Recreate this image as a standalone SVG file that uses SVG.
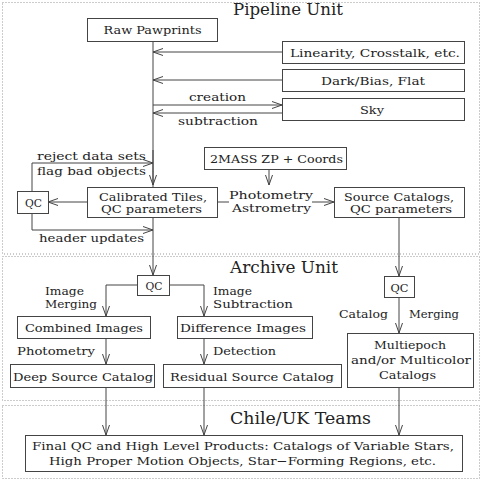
<svg xmlns="http://www.w3.org/2000/svg" width="482" height="482" viewBox="0 0 482 482">
<style>
text{font-family:"DejaVu Serif","Liberation Serif",serif;font-size:11.5px;fill:#222;text-anchor:middle}
.t{font-size:16px}
.l{text-anchor:start}
.r{text-anchor:end}
rect.n{fill:#fff;stroke:#444;stroke-width:1}
.frame{fill:none;stroke:#999;stroke-width:1;stroke-dasharray:1 2}
#connectors path{fill:none;stroke:#444;stroke-width:1}
</style>
<defs>
<marker id="a" viewBox="0 0 10 8" refX="10" refY="4" markerWidth="10" markerHeight="8" markerUnits="userSpaceOnUse" orient="auto">
<path d="M0,0.5 L10,4 L0,7.5" fill="none" stroke="#444" stroke-width="1"/>
</marker>
</defs>
<rect width="482" height="482" fill="#fff"/>
<g id="frames">
<rect class="frame" x="2.5" y="2.5" width="477" height="251.5"/>
<rect class="frame" x="2.5" y="256.5" width="477" height="144"/>
<rect class="frame" x="2.5" y="405.5" width="477" height="73"/>
<text class="t" x="288" y="15" textLength="110" lengthAdjust="spacingAndGlyphs">Pipeline Unit</text>
<text class="t" x="284" y="273" textLength="108" lengthAdjust="spacingAndGlyphs">Archive Unit</text>
<text class="t" x="300.5" y="424" textLength="141" lengthAdjust="spacingAndGlyphs">Chile/UK Teams</text>
</g>
<g id="connectors">
<path d="M153,41 V187" />
<path d="M153,150 V185" marker-end="url(#a)"/>
<path d="M282,52 H153" marker-end="url(#a)"/>
<path d="M282,80 H153" marker-end="url(#a)"/>
<path d="M153,105 H282" marker-end="url(#a)"/>
<path d="M282,113 H153" marker-end="url(#a)"/>
<path d="M87,202 H48" marker-end="url(#a)"/>
<path d="M32,191 V163 H153" marker-end="url(#a)"/>
<path d="M32,213 V230 H153" marker-end="url(#a)"/>
<path d="M269,169 V185" marker-end="url(#a)"/>
<path d="M217,202 H229"/>
<path d="M312,202 H334" marker-end="url(#a)"/>
<path d="M153,217 V275" marker-end="url(#a)"/>
<path d="M399,217 V276" marker-end="url(#a)"/>
<path d="M399,297 V333" marker-end="url(#a)"/>
<path d="M137,285 H106 V316" marker-end="url(#a)"/>
<path d="M169,285 H204 V316" marker-end="url(#a)"/>
<path d="M106,338 V364" marker-end="url(#a)"/>
<path d="M204,338 V364" marker-end="url(#a)"/>
<path d="M106,387 V435" marker-end="url(#a)"/>
<path d="M204,387 V435" marker-end="url(#a)"/>
<path d="M399,387 V435" marker-end="url(#a)"/>
</g>
<g id="labels">
<text x="217.5" y="101" textLength="57" lengthAdjust="spacingAndGlyphs">creation</text>
<text x="218" y="125" textLength="80" lengthAdjust="spacingAndGlyphs">subtraction</text>
<text class="l" x="37" y="160" textLength="109" lengthAdjust="spacingAndGlyphs">reject data sets</text>
<text class="l" x="37" y="175" textLength="109" lengthAdjust="spacingAndGlyphs">flag bad objects</text>
<text class="l" x="39" y="242" textLength="105" lengthAdjust="spacingAndGlyphs">header updates</text>
<text x="271" y="199" textLength="84" lengthAdjust="spacingAndGlyphs">Photometry</text>
<text x="271.5" y="212" textLength="79" lengthAdjust="spacingAndGlyphs">Astrometry</text>
<text class="l" x="45" y="295" textLength="39" lengthAdjust="spacingAndGlyphs">Image</text>
<text class="l" x="45" y="308" textLength="52" lengthAdjust="spacingAndGlyphs">Merging</text>
<text class="l" x="213" y="295" textLength="39" lengthAdjust="spacingAndGlyphs">Image</text>
<text class="l" x="213" y="308" textLength="80" lengthAdjust="spacingAndGlyphs">Subtraction</text>
<text class="l" x="17" y="355" textLength="78" lengthAdjust="spacingAndGlyphs">Photometry</text>
<text class="l" x="213" y="355" textLength="63" lengthAdjust="spacingAndGlyphs">Detection</text>
<text class="l" x="339" y="318" textLength="49" lengthAdjust="spacingAndGlyphs">Catalog</text>
<text class="l" x="409" y="318" textLength="50" lengthAdjust="spacingAndGlyphs">Merging</text>
</g>
<g id="raw"><rect class="n" x="87.5" y="18.5" width="130" height="23"/><text x="152.5" y="34" textLength="98" lengthAdjust="spacingAndGlyphs">Raw Pawprints</text></g>
<g id="lin"><rect class="n" x="282.5" y="41.5" width="182" height="22"/><text x="375" y="56.5" textLength="170" lengthAdjust="spacingAndGlyphs">Linearity, Crosstalk, etc.</text></g>
<g id="dark"><rect class="n" x="282.5" y="69.5" width="182" height="22"/><text x="373" y="84.5" textLength="104" lengthAdjust="spacingAndGlyphs">Dark/Bias, Flat</text></g>
<g id="sky"><rect class="n" x="282.5" y="98.5" width="182" height="22"/><text x="372" y="113.5" textLength="24" lengthAdjust="spacingAndGlyphs">Sky</text></g>
<g id="twomass"><rect class="n" x="204.5" y="147.5" width="142" height="22"/><text x="276.5" y="162.5" textLength="133" lengthAdjust="spacingAndGlyphs">2MASS ZP + Coords</text></g>
<g id="qc1"><rect class="n" x="17.5" y="191.5" width="31" height="22"/><text x="33.5" y="206.5" textLength="17" lengthAdjust="spacingAndGlyphs">QC</text></g>
<g id="cal"><rect class="n" x="87.5" y="187.5" width="130" height="30"/><text x="153" y="200.5" textLength="108" lengthAdjust="spacingAndGlyphs">Calibrated Tiles,</text><text x="151.5" y="213" textLength="101" lengthAdjust="spacingAndGlyphs">QC parameters</text></g>
<g id="src"><rect class="n" x="334.5" y="187.5" width="130" height="30"/><text x="399" y="200.5" textLength="110" lengthAdjust="spacingAndGlyphs">Source Catalogs,</text><text x="401" y="213" textLength="102" lengthAdjust="spacingAndGlyphs">QC parameters</text></g>
<g id="qc2"><rect class="n" x="137.5" y="275.5" width="32" height="20"/><text x="154" y="290" textLength="17" lengthAdjust="spacingAndGlyphs">QC</text></g>
<g id="qc3"><rect class="n" x="384.5" y="276.5" width="30" height="21"/><text x="399.5" y="291.5" textLength="18" lengthAdjust="spacingAndGlyphs">QC</text></g>
<g id="comb"><rect class="n" x="17.5" y="316.5" width="133" height="22"/><text x="84" y="332" textLength="118" lengthAdjust="spacingAndGlyphs">Combined Images</text></g>
<g id="diff"><rect class="n" x="177.5" y="316.5" width="135" height="22"/><text x="243" y="332" textLength="126" lengthAdjust="spacingAndGlyphs">Difference Images</text></g>
<g id="deep"><rect class="n" x="10.5" y="364.5" width="144" height="23"/><text x="83" y="380.5" textLength="140" lengthAdjust="spacingAndGlyphs">Deep Source Catalog</text></g>
<g id="resid"><rect class="n" x="163.5" y="364.5" width="178" height="23"/><text x="252" y="380.5" textLength="164" lengthAdjust="spacingAndGlyphs">Residual Source Catalog</text></g>
<g id="multi"><rect class="n" x="347.5" y="333.5" width="126" height="54"/><text x="410" y="349" textLength="72" lengthAdjust="spacingAndGlyphs">Multiepoch</text><text x="411" y="364" textLength="120" lengthAdjust="spacingAndGlyphs">and/or Multicolor</text><text x="407.5" y="379" textLength="57" lengthAdjust="spacingAndGlyphs">Catalogs</text></g>
<g id="final"><rect class="n" x="25.5" y="435.5" width="437" height="36"/><text x="243" y="450" textLength="422" lengthAdjust="spacingAndGlyphs">Final QC and High Level Products: Catalogs of Variable Stars,</text><text x="242.5" y="465" textLength="387" lengthAdjust="spacingAndGlyphs">High Proper Motion Objects, Star−Forming Regions, etc.</text></g>
</svg>
